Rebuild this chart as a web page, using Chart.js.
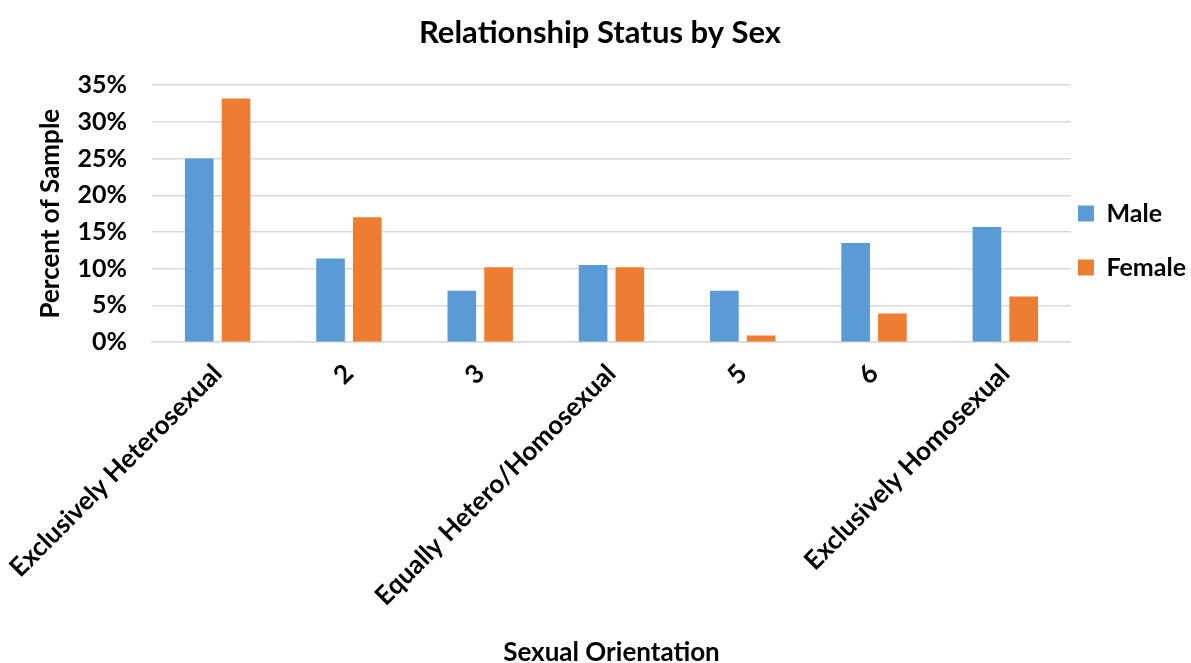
<!DOCTYPE html>
<html>
<head>
<meta charset="utf-8">
<script src="https://cdn.jsdelivr.net/npm/chart.js@4"></script>
<style>
  html, body { margin: 0; padding: 0; background: #fff; }
  #wrap { width: 1191px; height: 663px; }
</style>
</head>
<body>
<div id="wrap"><canvas id="chart"></canvas></div>
<script>
// Chart data
const categories = ['Exclusively Heterosexual', '2', '3', 'Equally Hetero/Homosexual', '5', '6', 'Exclusively Homosexual'];
const maleValues = [25.0, 11.4, 7.0, 10.5, 7.0, 13.5, 15.7];
const femaleValues = [33.2, 17.0, 10.2, 10.2, 0.9, 3.9, 6.2];
const yTicks = [0, 5, 10, 15, 20, 25, 30, 35];

const fontFamily = 'Lato, "Open Sans", sans-serif';

const ctx = document.getElementById('chart').getContext('2d');
const chart = new Chart(ctx, {
    type: 'bar',
    data: {
        labels: categories,
        datasets: [
            {
                label: 'Male',
                data: maleValues,
                backgroundColor: '#5b9bd5',
                categoryPercentage: 0.56,
                barPercentage: 0.78
            },
            {
                label: 'Female',
                data: femaleValues,
                backgroundColor: '#ed7d31',
                categoryPercentage: 0.56,
                barPercentage: 0.78
            }
        ]
    },
    options: {
        responsive: true,
        maintainAspectRatio: false,
        animation: false,
        layout: { padding: { top: 4, right: -5, bottom: -5, left: 4 } },
        plugins: {
            title: {
                display: true,
                text: 'Relationship Status by Sex',
                color: '#000',
                font: { family: fontFamily, size: 31, weight: 'bold' },
                padding: { top: 10, bottom: 34 }
            },
            legend: {
                position: 'right',
                align: 'start',
                // empty title only used to push the items down
                title: {
                    display: true,
                    text: ' ',
                    font: { size: 20 },
                    padding: { top: 87, bottom: 79 }
                },
                labels: {
                    color: '#000',
                    boxWidth: 16,
                    boxHeight: 16,
                    padding: 7,
                    font: { family: fontFamily, size: 25, weight: 'bold', lineHeight: 1.88 },
                    // array text so the row step follows the font lineHeight, not the padding
                    generateLabels: chart => Chart.defaults.plugins.legend.labels.generateLabels(chart)
                        .map(item => ({ ...item, text: [item.text] }))
                }
            },
            tooltip: { enabled: false }
        },
        scales: {
            x: {
                grid: { display: false, drawTicks: false },
                border: { color: '#d9d9d9', width: 1.5 },
                // let the y axis decide where the plot starts
                afterFit: scale => { scale.paddingLeft = 0; },
                ticks: {
                    color: '#000',
                    maxRotation: 45,
                    minRotation: 45,
                    padding: 16,
                    font: { family: fontFamily, size: 26, weight: 'bold' }
                },
                title: {
                    display: true,
                    text: 'Sexual Orientation',
                    color: '#000',
                    font: { family: fontFamily, size: 26, weight: 'bold' },
                    padding: { top: 9, bottom: 0 }
                }
            },
            y: {
                min: 0,
                max: 35,
                afterBuildTicks: axis => { axis.ticks = yTicks.map(v => ({ value: v })); },
                afterFit: scale => { scale.width = 148; },
                grid: { color: '#d9d9d9', lineWidth: 1.5, drawTicks: false },
                border: { display: false },
                ticks: {
                    color: '#000',
                    padding: 25,
                    callback: v => v + '%',
                    font: { family: fontFamily, size: 25, weight: 'bold' }
                },
                title: {
                    display: true,
                    text: 'Percent of Sample',
                    color: '#000',
                    font: { family: fontFamily, size: 26, weight: 'bold' },
                    padding: { top: 31, bottom: 0 }
                }
            }
        }
    }
});
</script>
</body>
</html>
